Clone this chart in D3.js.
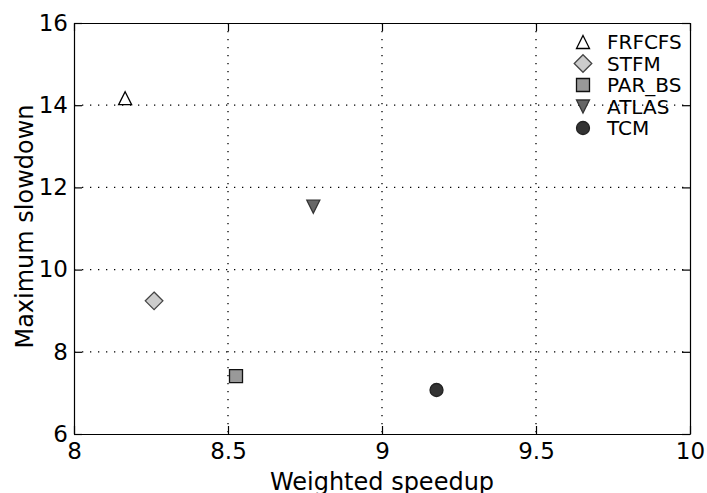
<!DOCTYPE html>
<html>
<head>
<meta charset="utf-8">
<script src="https://cdn.jsdelivr.net/npm/d3@7"></script>
<style>
  body { margin: 0; background: #fff; }
  text { font-family: "DejaVu Sans", sans-serif; fill: #000; }
  .axis path, .axis line { stroke: #000; stroke-width: 1.2; }
  .grid line { stroke: #000; stroke-width: 1.3; stroke-dasharray: 1.3,6.7; }
</style>
</head>
<body>
<div id="chart"></div>
<script>
// scheduler results: weighted speedup vs maximum slowdown
var schedulers = ["FRFCFS", "STFM", "PAR_BS", "ATLAS", "TCM"];
var speedup    = [8.166, 8.26, 8.526, 8.777, 9.177];
var slowdown   = [14.17, 9.24, 7.41, 11.53, 7.07];
var shapes     = ["triangleUp", "diamond", "square", "triangleDown", "circle"];
var fills      = ["#ffffff", "#cccccc", "#999999", "#666666", "#333333"];
var strokes    = ["#000000", "#444444", "#111111", "#333333", "#222222"];

var xTicks = [8, 8.5, 9, 9.5, 10];
var yTicks = [6, 8, 10, 12, 14, 16];

var margin = {top: 23, right: 17, bottom: 59, left: 74},
    width = 707 - margin.left - margin.right,
    height = 493 - margin.top - margin.bottom;

var svg = d3.select("#chart")
    .append("svg")
      .attr("width", 707)
      .attr("height", 493)
    .append("g")
      .attr("transform", "translate(" + margin.left + "," + margin.top + ")");

var x = d3.scaleLinear().domain([8, 10]).range([0, width]),
    y = d3.scaleLinear().domain([6, 16]).range([height, 0]);

// marker outlines, centred on their bounding box like matplotlib
function marker(kind, r) {
  if (kind == "triangleUp") return "M0," + (-r) + "L" + r + "," + r + "L" + (-r) + "," + r + "Z";
  if (kind == "triangleDown") return "M0," + r + "L" + r + "," + (-r) + "L" + (-r) + "," + (-r) + "Z";
  if (kind == "diamond") { var d = r * 1.35; return "M0," + (-d) + "L" + d + ",0L0," + d + "L" + (-d) + ",0Z"; }
  if (kind == "square") return "M" + (-r) + "," + (-r) + "h" + (2 * r) + "v" + (2 * r) + "h" + (-2 * r) + "Z";
  var p = d3.path();
  p.arc(0, 0, r, 0, 2 * Math.PI);
  return p.toString();
}

// dotted grid
svg.append("g").attr("class", "grid")
  .selectAll("line")
  .data(xTicks.slice(1, -1))
  .enter().append("line")
    .attr("x1", function(d){ return x(d); })
    .attr("x2", function(d){ return x(d); })
    .attr("y1", 0)
    .attr("y2", height);

svg.append("g").attr("class", "grid")
  .selectAll("line")
  .data(yTicks.slice(1, -1))
  .enter().append("line")
    .attr("y1", function(d){ return y(d); })
    .attr("y2", function(d){ return y(d); })
    .attr("x1", 0)
    .attr("x2", width);

// axes, ticks pointing inward on all four sides
svg.append("g")
    .attr("class", "axis")
    .attr("transform", "translate(0," + height + ")")
    .call(d3.axisBottom(x).tickValues(xTicks).tickSize(-8).tickSizeOuter(0).tickPadding(9)
      .tickFormat(function(d){ return d3.format("")(d); }))
    .selectAll("text").style("font-size", "23px");

svg.append("g")
    .attr("class", "axis")
    .call(d3.axisLeft(y).tickValues(yTicks).tickSize(-8).tickSizeOuter(0).tickPadding(6))
    .selectAll("text").style("font-size", "23px");

svg.append("g")
    .attr("class", "axis")
    .call(d3.axisTop(x).tickValues(xTicks).tickSize(-8).tickSizeOuter(0).tickFormat(""));

svg.append("g")
    .attr("class", "axis")
    .attr("transform", "translate(" + width + ",0)")
    .call(d3.axisRight(y).tickValues(yTicks).tickSize(-8).tickSizeOuter(0).tickFormat(""));

svg.selectAll(".axis text").style("font-family", "DejaVu Sans").attr("fill", "#000");

// axis titles
svg.append("text")
    .attr("x", width / 2)
    .attr("y", height + 56)
    .attr("text-anchor", "middle")
    .style("font-size", "24px")
    .text("Weighted speedup");

svg.append("text")
    .attr("transform", "rotate(-90)")
    .attr("x", -height / 2 + 2)
    .attr("y", -41)
    .attr("text-anchor", "middle")
    .style("font-size", "24px")
    .text("Maximum slowdown");

// points
svg.append("g")
  .selectAll("path")
  .data(schedulers)
  .enter().append("path")
    .attr("transform", function(d, i){ return "translate(" + x(speedup[i]) + "," + y(slowdown[i]) + ")"; })
    .attr("d", function(d, i){ return marker(shapes[i], 6.5); })
    .attr("fill", function(d, i){ return fills[i]; })
    .attr("stroke", function(d, i){ return strokes[i]; })
    .attr("stroke-width", 1.3);

// legend, no frame
var legend = svg.append("g")
    .attr("transform", "translate(" + (583 - margin.left) + "," + (42 - margin.top) + ")");

var rows = legend.selectAll("g")
  .data(schedulers)
  .enter().append("g")
    .attr("transform", function(d, i){ return "translate(0," + (i * 21.5) + ")"; });

rows.append("path")
    .attr("d", function(d, i){ return marker(shapes[i], 6.5); })
    .attr("fill", function(d, i){ return fills[i]; })
    .attr("stroke", function(d, i){ return strokes[i]; })
    .attr("stroke-width", 1.3);

rows.append("text")
    .attr("x", 24)
    .attr("dy", "0.36em")
    .style("font-size", "20px")
    .text(function(d){ return d; });
</script>
</body>
</html>
